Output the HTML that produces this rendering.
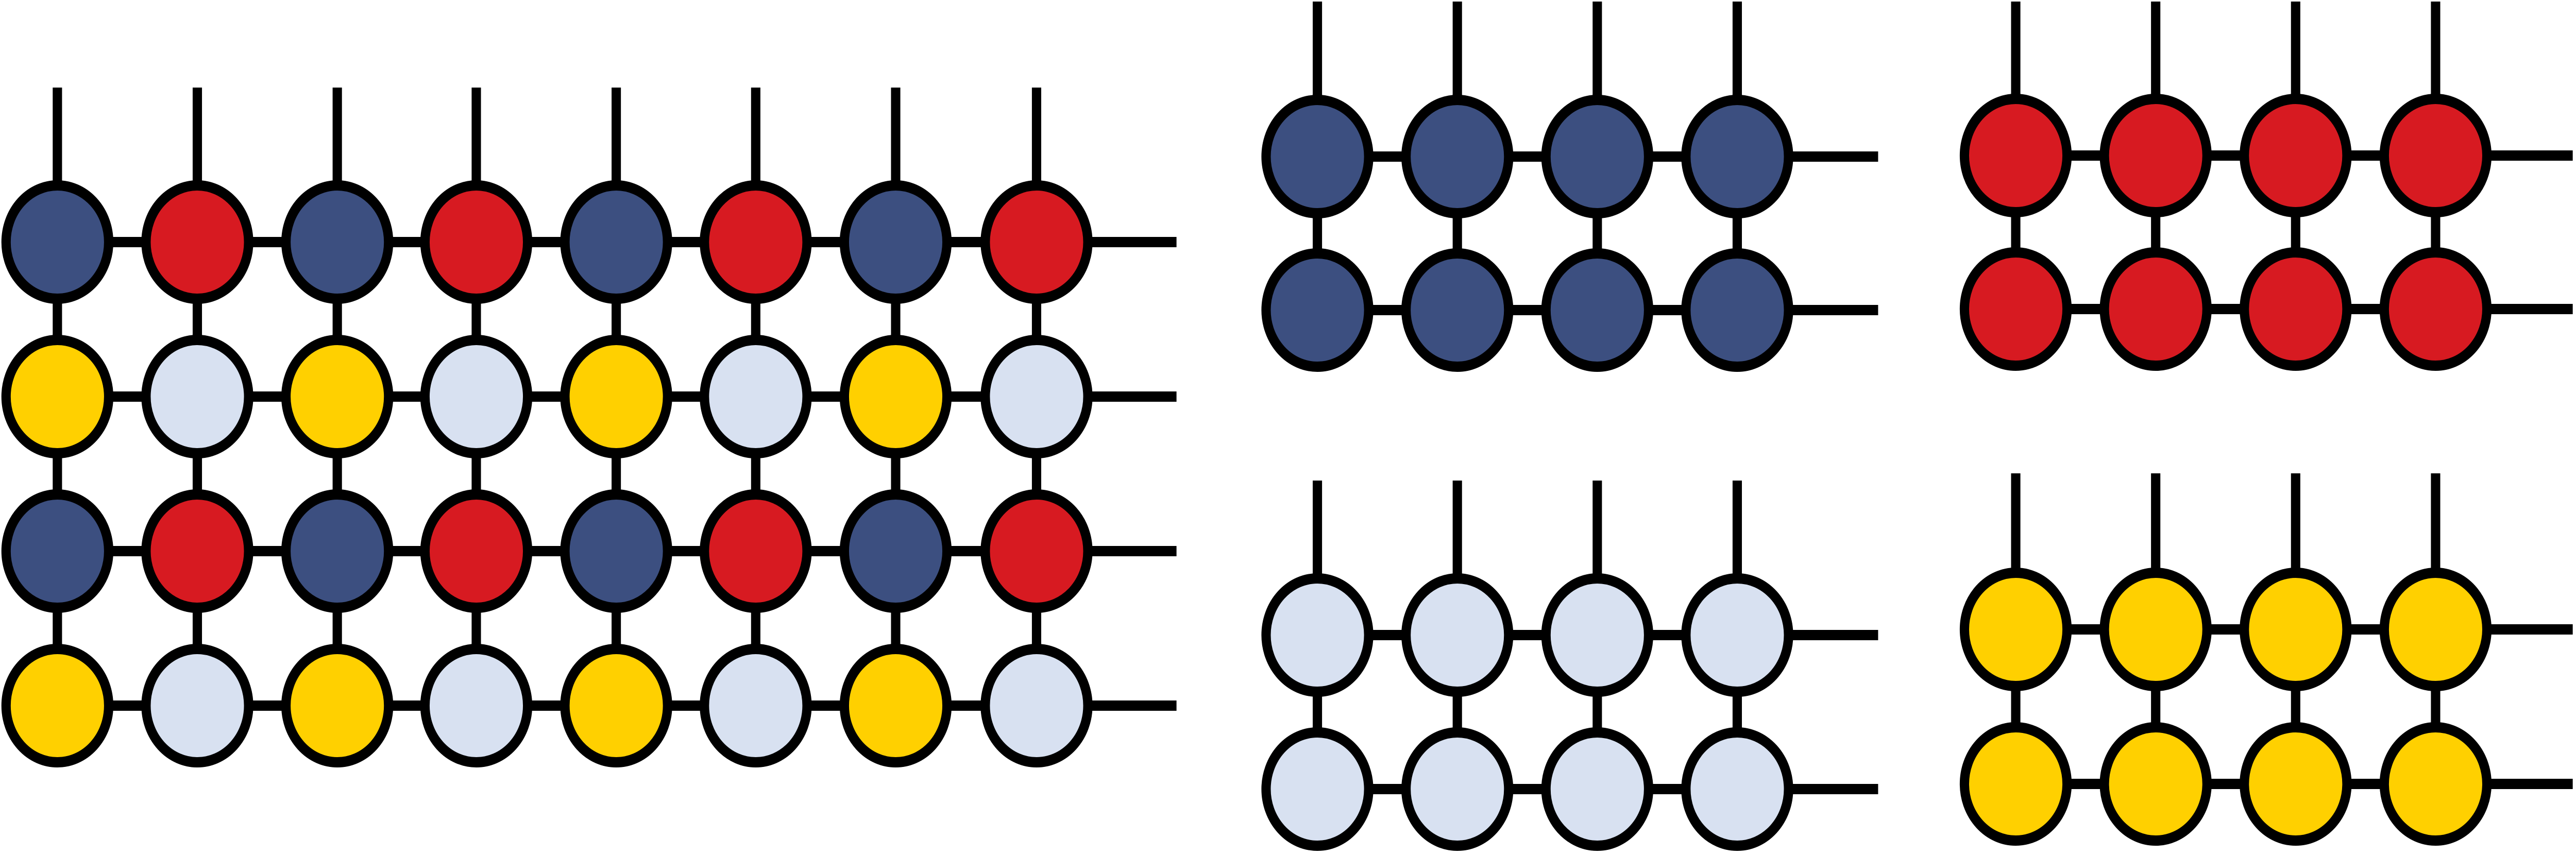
<!DOCTYPE html>
<html><head><meta charset="utf-8"><style>
html,body{margin:0;padding:0;background:#fff;width:5522px;height:1660px;overflow:hidden;}
svg{display:block;width:100vw;height:100vh;}
</style></head>
<body>
<svg id="chart" viewBox="0 0 5522 1660" preserveAspectRatio="none" xmlns="http://www.w3.org/2000/svg"></svg>
<script>
const NAVY="#3c4f80", RED="#d71a21", YEL="#ffd000", LIGHT="#d8e1f1";
// left big lattice
const bigCols=[123,423,723,1021,1321,1620,1920,2222];
const bigRows=[470,770,1070,1370];
const bigPattern=[[NAVY,RED],[YEL,LIGHT],[NAVY,RED],[YEL,LIGHT]];
// small lattices
const groupNames=["navy-lattice","red-lattice","light-lattice","yellow-lattice"];
const groupColors=[NAVY,RED,LIGHT,YEL];
const groupX0=[2824,4321,2824,4321];
const groupRowY=[[304,602],[302,600],[1233,1532],[1222,1522]];
const groupTop=[3,3,933,919];
const groupRight=[4026,5515,4026,5515];
const smallStep=300;
const R=110, SW=20;
const svg=document.getElementById('chart');
const NS="http://www.w3.org/2000/svg";
function line(x1,y1,x2,y2,name){
  const l=document.createElementNS(NS,'line');
  l.setAttribute('x1',x1);l.setAttribute('y1',y1);l.setAttribute('x2',x2);l.setAttribute('y2',y2);
  l.setAttribute('stroke','#000');l.setAttribute('stroke-width',SW);
  
  
  svg.appendChild(l);
}
function circ(x,y,fill,name){
  const c=document.createElementNS(NS,'circle');
  c.setAttribute('cx',x);c.setAttribute('cy',y);c.setAttribute('r',R);
  c.setAttribute('fill',fill);c.setAttribute('stroke','#000');c.setAttribute('stroke-width',SW);
  
  
  svg.appendChild(c);
}
function lattice(cols,rows,colorFn,topY,rightX,prefix){
  cols.forEach(x=>line(x,topY,x,rows[0],prefix+'-top-bond'));
  rows.forEach(y=>line(cols[0],y,rightX,y,prefix+'-row-bond'));
  cols.forEach(x=>line(x,rows[0],x,rows[rows.length-1],prefix+'-column-bond'));
  rows.forEach((y,i)=>cols.forEach((x,j)=>circ(x,y,colorFn(i,j),prefix+'-site')));
}
lattice(bigCols,bigRows,(i,j)=>bigPattern[i][j%2],170,2522,'big-lattice');
groupColors.forEach((col,g)=>{
  const cols=[0,1,2,3].map(k=>groupX0[g]+k*smallStep);
  lattice(cols,groupRowY[g],()=>col,groupTop[g],groupRight[g],groupNames[g]);
});
</script>
</body></html>
